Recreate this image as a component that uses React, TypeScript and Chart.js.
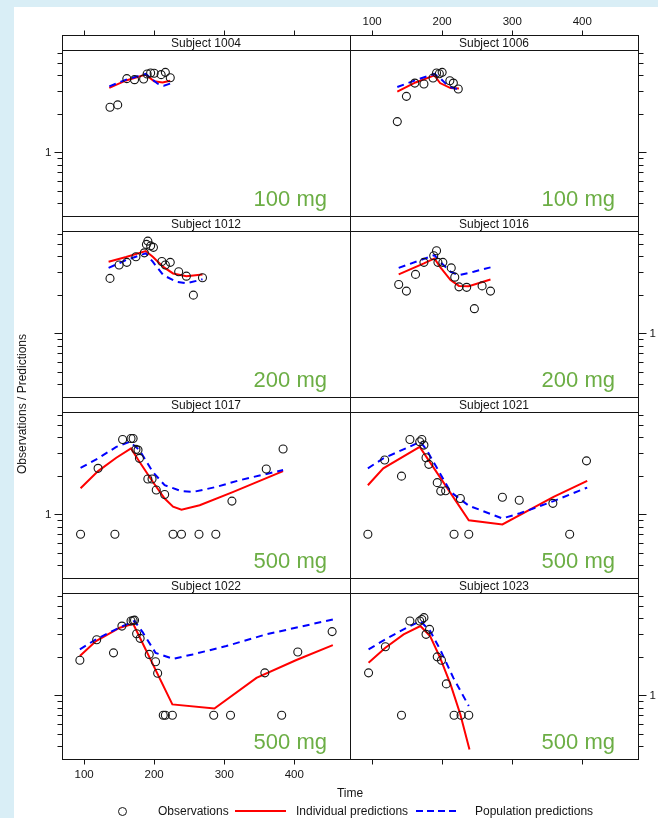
import React, { useEffect, useRef } from "react";
import { Chart, registerables } from "chart.js";

Chart.register(...registerables);

// ---------------- data ----------------
const subjects = ["Subject 1004", "Subject 1006", "Subject 1012", "Subject 1016", "Subject 1017", "Subject 1021", "Subject 1022", "Subject 1023"];
const doses = ["100 mg", "100 mg", "200 mg", "200 mg", "500 mg", "500 mg", "500 mg", "500 mg"];

const xTicks = [100, 200, 300, 400];
const yTicks = [0.4, 0.5, 0.6, 0.7, 0.8, 0.9, 1, 2, 3, 4, 5, 6];
const yLabelled = [1];

// Subject 1004
const obsT1004 = [137, 148, 161, 172, 185, 190, 195, 200, 210, 216, 223];
const obsC1004 = [2.25, 2.35, 3.77, 3.7, 3.74, 4.1, 4.17, 4.15, 4.05, 4.22, 3.83];
const ipredT1004 = [136, 160, 188, 200, 212, 223];
const ipredC1004 = [3.19, 3.65, 4.05, 3.59, 3.52, 3.63];
const predT1004 = [136, 160, 188, 205, 214, 223];
const predC1004 = [3.28, 3.7, 4.1, 3.44, 3.32, 3.45];

// Subject 1006
const obsT1006 = [136, 149, 161, 174, 187, 192, 196, 200, 211, 216, 223];
const obsC1006 = [1.74, 2.74, 3.48, 3.42, 3.81, 4.17, 4.12, 4.22, 3.63, 3.48, 3.13];
const ipredT1006 = [136, 162, 189, 197, 212, 224];
const ipredC1006 = [2.98, 3.52, 4.0, 3.48, 3.18, 3.15];
const predT1006 = [136, 164, 189, 197, 209, 224];
const predC1006 = [3.24, 3.7, 4.1, 3.81, 3.28, 3.09];

// Subject 1012
const obsT1012 = [137, 150, 161, 174, 186, 189, 191, 195, 199, 211, 216, 223, 235, 246, 256, 269];
const obsC1012 = [2.69, 3.42, 3.59, 3.97, 4.26, 4.96, 5.26, 4.83, 4.7, 3.65, 3.42, 3.59, 3.03, 2.8, 1.99, 2.72];
const ipredT1012 = [135, 160, 188, 198, 213, 227, 246, 269];
const ipredC1012 = [3.63, 3.95, 4.4, 3.97, 3.31, 2.94, 2.8, 2.89];
const predT1012 = [135, 160, 188, 198, 213, 232, 246, 265, 269];
const predC1012 = [3.25, 3.74, 4.22, 3.63, 2.85, 2.53, 2.46, 2.61, 2.65];

// Subject 1016
const obsT1016 = [138, 149, 162, 174, 188, 192, 194, 201, 213, 218, 224, 235, 246, 257, 269];
const obsC1016 = [2.41, 2.14, 2.89, 3.59, 4.04, 4.42, 3.59, 3.59, 3.25, 2.75, 2.31, 2.29, 1.56, 2.35, 2.14];
const ipredT1016 = [138, 174, 189, 197, 212, 224, 238, 269];
const ipredC1016 = [2.89, 3.52, 3.85, 3.31, 2.61, 2.35, 2.34, 2.64];
const predT1016 = [138, 189, 197, 212, 224, 245, 269];
const predC1016 = [3.25, 4.09, 3.63, 3.03, 2.85, 3.03, 3.28];

// Subject 1017
const obsT1017 = [95, 120, 144, 155, 167, 170, 174, 177, 179, 191, 197, 203, 215, 227, 239, 264, 288, 311, 360, 384];
const obsC1017 = [0.7, 2.29, 0.7, 3.85, 3.92, 3.92, 3.22, 3.18, 2.74, 1.89, 1.89, 1.55, 1.43, 0.7, 0.7, 0.7, 0.7, 1.27, 2.26, 3.24];
const ipredT1017 = [95, 120, 146, 167, 179, 198, 215, 227, 239, 265, 313, 384];
const ipredC1017 = [1.6, 2.18, 2.77, 3.28, 2.58, 1.8, 1.33, 1.15, 1.09, 1.18, 1.5, 2.18];
const predT1017 = [95, 120, 146, 165, 179, 198, 215, 239, 256, 289, 322, 384];
const predC1017 = [2.31, 2.74, 3.37, 3.69, 3.18, 2.15, 1.69, 1.52, 1.5, 1.64, 1.85, 2.22];

// Subject 1021
const obsT1021 = [94, 118, 142, 154, 168, 171, 174, 177, 181, 193, 198, 205, 217, 226, 238, 286, 310, 358, 382, 406];
const obsC1021 = [0.7, 2.66, 1.99, 3.85, 3.69, 3.85, 3.48, 2.77, 2.46, 1.77, 1.52, 1.53, 0.7, 1.33, 0.7, 1.36, 1.29, 1.22, 0.7, 2.62];
const ipredT1021 = [94, 116, 168, 238, 286, 359, 407];
const ipredC1021 = [1.69, 2.29, 3.37, 0.9, 0.835, 1.37, 1.83];
const predT1021 = [94, 116, 169, 178, 212, 238, 286, 311, 359, 407];
const predC1021 = [2.29, 2.74, 3.69, 3.18, 1.5, 1.17, 0.93, 1.02, 1.27, 1.62];

// Subject 1022
const obsT1022 = [94, 118, 142, 154, 167, 170, 172, 175, 180, 193, 202, 205, 213, 216, 226, 285, 309, 358, 382, 405, 454];
const obsC1022 = [1.88, 2.72, 2.15, 3.48, 3.81, 3.85, 3.87, 3.03, 2.79, 2.09, 1.83, 1.49, 0.7, 0.7, 0.7, 0.7, 0.7, 1.5, 0.7, 2.18, 3.15];
const ipredT1022 = [94, 117, 151, 170, 226, 286, 346, 403, 455];
const ipredC1022 = [2.03, 2.66, 3.38, 3.63, 0.85, 0.79, 1.37, 1.89, 2.47];
const predT1022 = [94, 117, 151, 172, 184, 202, 227, 255, 303, 360, 455];
const predC1022 = [2.29, 2.74, 3.4, 3.81, 3.09, 2.15, 1.93, 2.09, 2.43, 3.0, 3.92];

// Subject 1023
const obsT1023 = [95, 119, 142, 154, 168, 171, 174, 177, 182, 193, 199, 206, 217, 227, 238];
const obsC1023 = [1.5, 2.4, 0.7, 3.81, 3.81, 3.92, 4.05, 3.0, 3.28, 2.0, 1.88, 1.23, 0.7, 0.7, 0.7];
const ipredT1023 = [95, 119, 145, 169, 183, 197, 212, 226, 239];
const ipredC1023 = [1.8, 2.36, 3.0, 3.48, 2.9, 1.97, 1.22, 0.71, 0.378];
const predT1023 = [95, 119, 145, 169, 183, 197, 216, 238];
const predC1023 = [2.29, 2.74, 3.28, 3.81, 3.18, 2.29, 1.37, 0.826];

const obsTimes = [obsT1004, obsT1006, obsT1012, obsT1016, obsT1017, obsT1021, obsT1022, obsT1023];
const obsConcs = [obsC1004, obsC1006, obsC1012, obsC1016, obsC1017, obsC1021, obsC1022, obsC1023];
const ipredTimes = [ipredT1004, ipredT1006, ipredT1012, ipredT1016, ipredT1017, ipredT1021, ipredT1022, ipredT1023];
const ipredConcs = [ipredC1004, ipredC1006, ipredC1012, ipredC1016, ipredC1017, ipredC1021, ipredC1022, ipredC1023];
const predTimes = [predT1004, predT1006, predT1012, predT1016, predT1017, predT1021, predT1022, predT1023];
const predConcs = [predC1004, predC1006, predC1012, predC1016, predC1017, predC1021, predC1022, predC1023];

// ---------------- layout ----------------
const W = 658;
const H = 818;
const FONT = '"Liberation Sans", Arial, Helvetica, sans-serif';
const X_MIN = 68.5;
const X_MAX = 479.5;
const Y_MIN = 0.3184;
const Y_MAX = 6.31;
const COL_L = [62, 350];
const COL_R = [350, 638];
const STRIP_TOP = [35, 216, 397, 578];
const STRIP_H = 15;
const PANEL_BOTTOM = [216, 397, 578, 759];
const INK = "#151515";
const GREEN = "#6cae45";

const px = (v: number) => Math.round(v) + 0.5;

const latticePlugin = {
  id: "lattice",
  afterDatasetsDraw(chart: any, _args: any, opts: any) {
    const { ctx, chartArea: a } = chart;
    const xs = chart.scales.x;
    const ys = chart.scales.y;
    const { row, col, subject, dose } = opts;
    const L = px(a.left), R = px(a.right), T = px(a.top), B = px(a.bottom);
    const st = px(a.top - STRIP_H);
    ctx.save();

    // dose label
    ctx.fillStyle = GREEN;
    ctx.font = `22px ${FONT}`;
    ctx.textAlign = "right";
    ctx.textBaseline = "alphabetic";
    ctx.fillText(dose, a.right - 23, a.bottom - 10.5);

    ctx.strokeStyle = INK;
    ctx.lineWidth = 1;
    // panel border
    ctx.strokeRect(L, T, R - L, B - T);
    // strip
    ctx.fillStyle = "#ffffff";
    ctx.fillRect(L, st, R - L, T - st);
    ctx.strokeRect(L, st, R - L, T - st);
    ctx.fillStyle = INK;
    ctx.font = `12px ${FONT}`;
    ctx.textAlign = "center";
    ctx.textBaseline = "middle";
    ctx.fillText(subject, (a.left + a.right) / 2, (st + T) / 2 + 0.5);

    // y ticks
    ctx.beginPath();
    for (const v of yTicks) {
      const y = px(ys.getPixelForValue(v));
      const len = yLabelled.includes(v) ? 8 : 5;
      if (col === 0) {
        ctx.moveTo(L - len, y);
        ctx.lineTo(L, y);
      } else {
        ctx.moveTo(R, y);
        ctx.lineTo(R + len, y);
      }
    }
    // x ticks (top of first row, bottom of last row)
    for (const t of xTicks) {
      const x = px(xs.getPixelForValue(t));
      if (row === 0) {
        ctx.moveTo(x, st - 5);
        ctx.lineTo(x, st);
      }
      if (row === 3) {
        ctx.moveTo(x, B);
        ctx.lineTo(x, B + 5);
      }
    }
    ctx.stroke();

    ctx.font = `11.5px ${FONT}`;
    ctx.textBaseline = "middle";
    for (const v of yLabelled) {
      const y = ys.getPixelForValue(v);
      if (col === 0 && row % 2 === 0) {
        ctx.textAlign = "right";
        ctx.fillText(String(v), L - 11, y);
      }
      if (col === 1 && row % 2 === 1) {
        ctx.textAlign = "left";
        ctx.fillText(String(v), R + 11, y);
      }
    }
    ctx.textAlign = "center";
    for (const t of xTicks) {
      const x = xs.getPixelForValue(t);
      if (row === 0 && col === 1) ctx.fillText(String(t), x, 22);
      if (row === 3 && col === 0) ctx.fillText(String(t), x, 775);
    }
    ctx.restore();
  },
};

const pairs = (t: number[], c: number[]) => t.map((x, i) => ({ x, y: c[i] }));

function Panel({ idx }: { idx: number }) {
  const ref = useRef<HTMLCanvasElement | null>(null);
  useEffect(() => {
    const row = Math.floor(idx / 2);
    const col = idx % 2;
    const left = COL_L[col];
    const right = COL_R[col];
    const top = STRIP_TOP[row] + STRIP_H;
    const bottom = PANEL_BOTTOM[row];
    const chart = new Chart(ref.current as HTMLCanvasElement, {
      type: "line",
      data: {
        datasets: [
          {
            label: "Observations",
            data: pairs(obsTimes[idx], obsConcs[idx]),
            showLine: false,
            pointRadius: 4,
            pointStyle: "circle",
            pointBorderWidth: 1.1,
            pointBorderColor: INK,
            pointBackgroundColor: "rgba(0,0,0,0)",
          },
          {
            label: "Population predictions",
            data: pairs(predTimes[idx], predConcs[idx]),
            borderColor: "#0000ff",
            borderWidth: 2,
            borderDash: [7, 5],
            pointRadius: 0,
            fill: false,
            tension: 0,
          },
          {
            label: "Individual predictions",
            data: pairs(ipredTimes[idx], ipredConcs[idx]),
            borderColor: "#ff0000",
            borderWidth: 2,
            pointRadius: 0,
            fill: false,
            tension: 0,
          },
        ],
      } as any,
      options: {
        animation: false,
        responsive: false,
        devicePixelRatio: 1,
        events: [],
        layout: { padding: { left, top, right: W - right, bottom: H - bottom } },
        plugins: {
          legend: { display: false },
          tooltip: { enabled: false },
          title: { display: false },
          lattice: { row, col, subject: subjects[idx], dose: doses[idx] },
        } as any,
        scales: {
          x: { type: "linear", min: X_MIN, max: X_MAX, display: false, bounds: "data" },
          y: { type: "logarithmic", min: Y_MIN, max: Y_MAX, display: false, bounds: "data" },
        },
      } as any,
      plugins: [latticePlugin as any],
    });
    return () => chart.destroy();
  }, [idx]);
  return (
    <canvas
      ref={ref}
      width={W}
      height={H}
      style={{ position: "absolute", left: 0, top: 0, width: W, height: H }}
    />
  );
}

const textStyle: React.CSSProperties = {
  position: "absolute",
  fontFamily: FONT,
  fontSize: 12,
  lineHeight: "14px",
  color: INK,
  whiteSpace: "nowrap",
};

export default function App() {
  return (
    <div style={{ position: "absolute", left: 0, top: 0, width: W, height: H, background: "#d9eef6", overflow: "hidden" }}>
      <div style={{ position: "absolute", left: 14, top: 7, right: 0, bottom: 0, background: "#ffffff" }} />
      {subjects.map((_, i) => (
        <Panel key={i} idx={i} />
      ))}
      <div style={{ ...textStyle, left: 300, width: 100, top: 786, textAlign: "center" }}>Time</div>
      <div
        style={{
          ...textStyle,
          left: 22 - 100,
          top: 404 - 7,
          width: 200,
          textAlign: "center",
          transform: "rotate(-90deg)",
          transformOrigin: "50% 50%",
        }}
      >
        Observations / Predictions
      </div>
      {/* key */}
      <div style={{ position: "absolute", left: 118, top: 807, width: 7, height: 7, border: `1px solid ${INK}`, borderRadius: "50%" }} />
      <div style={{ ...textStyle, left: 158, top: 804 }}>Observations</div>
      <div style={{ position: "absolute", left: 235, top: 810, width: 51, height: 2, background: "#ff0000" }} />
      <div style={{ ...textStyle, left: 296, top: 804 }}>Individual predictions</div>
      <div
        style={{
          position: "absolute",
          left: 416,
          top: 810,
          width: 40,
          height: 2,
          background: "repeating-linear-gradient(to right, #0000ff 0px, #0000ff 7px, transparent 7px, transparent 11px)",
        }}
      />
      <div style={{ ...textStyle, left: 475, top: 804 }}>Population predictions</div>
    </div>
  );
}
